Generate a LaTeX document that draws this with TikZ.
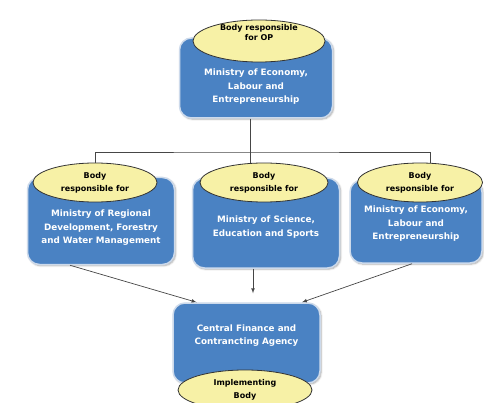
\documentclass[tikz,border=0pt]{standalone}
\usepackage{fontspec}
\setsansfont{DejaVu Sans}
\usepackage{tikz}
\usetikzlibrary{arrows,shapes.geometric,shadows.blur}
\definecolor{boxblue}{RGB}{74,130,195}
\definecolor{boxedge}{RGB}{205,218,235}
\definecolor{roleyellow}{RGB}{247,241,166}
\definecolor{linegray}{RGB}{70,70,70}
\tikzset{>=latex}
\tikzset{
	body/.style={draw=boxedge, line width=1.5pt, fill=boxblue, rounded corners=12pt,
			blur shadow={shadow xshift=1.2pt, shadow yshift=-1.2pt, shadow blur steps=4, shadow opacity=35}},
	bodytext/.style={text=white, align=center, font=\sffamily\bfseries\fontsize{8.8}{13.5}\selectfont},
	role/.style={ellipse, draw=black!80, line width=0.8pt, fill=roleyellow, inner sep=0pt,
			align=center, font=\sffamily\bfseries\fontsize{8}{13}\selectfont},
	roletext/.style={align=center, font=\sffamily\bfseries\fontsize{8}{10}\selectfont},
	link/.style={draw=linegray, line width=0.7pt}
}

\begin{document}
\begin{tikzpicture}[x=1pt,y=-1pt]
	\useasboundingbox (0,0) rectangle (484,403);

	\node[body, minimum width=153pt, minimum height=80pt] (econBox) at (256,78) {};
	\node[bodytext] (econText) at (256,87) {Ministry of Economy,\\Labour and\\Entrepreneurship};
	\node[role, minimum width=132pt, minimum height=42pt] (opRole) at (259,41) {};
	\node[roletext] (opRoleText) at (259,33) {Body responsible\\for OP};

	\node[body, minimum width=147pt, minimum height=87pt] (regBox) at (101,221) {};
	\node[bodytext] (regText) at (101,228) {Ministry of Regional\\Development, Forestry\\and Water Management};
	\node[role, minimum width=124pt, minimum height=39pt] (regRole) at (95,182.5) {Body\\responsible for};

	\node[body, minimum width=147pt, minimum height=90pt] (sciBox) at (266,223) {};
	\node[bodytext] (sciText) at (266,227) {Ministry of Science,\\Education and Sports};
	\node[role, minimum width=128pt, minimum height=39pt] (sciRole) at (264,182.5) {Body\\responsible for};

	\node[body, minimum width=132pt, minimum height=83pt] (econSecBox) at (416,221.5) {};
	\node[bodytext] (econSecText) at (416,224) {Ministry of Economy,\\Labour and\\Entrepreneurship};
	\node[role, minimum width=125pt, minimum height=39pt] (econSecRole) at (420,182.5) {Body\\responsible for};

	\node[body, minimum width=147pt, minimum height=80pt] (cfcaBox) at (246.5,343) {};
	\node[bodytext] (cfcaText) at (246.5,335.5) {Central Finance and\\Contrancting Agency};
	\node[role, minimum width=134pt, minimum height=40pt] (implRole) at (245,390) {Implementing\\Body};

	\coordinate (split) at (250,152);
	\draw[link] (econBox.south -| split) -- (split);
	\draw[link] (regRole.north) |- (split) -| ([xshift=10pt]econSecRole.north);
	\draw[link] (split) -- (split |- sciRole.north);

	\draw[link,->] ([xshift=-31pt]regBox.south) -- ([xshift=-50pt]cfcaBox.north);
	\draw[link,->] ([xshift=-13pt]sciBox.south) -- ([xshift=6.5pt,yshift=9pt]cfcaBox.north);
	\draw[link,->] ([xshift=-4pt]econSecBox.south) -- ([xshift=55.5pt]cfcaBox.north);
\end{tikzpicture}
\end{document}
